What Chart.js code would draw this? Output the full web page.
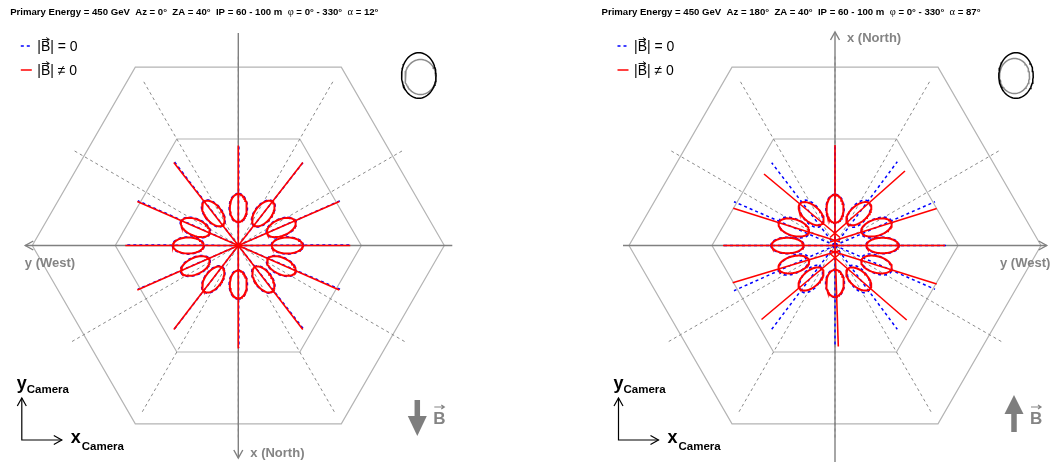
<!DOCTYPE html>
<html>
<head>
<meta charset="utf-8">
<script src="https://cdn.jsdelivr.net/npm/chart.js@4.4.1/dist/chart.umd.min.js"></script>
<style>
body { margin: 0; background: #fff; width: 1052px; height: 462px; overflow: hidden; position: relative; }
canvas { position: absolute; top: 0; }
#left { left: 0; }
#right { left: 596px; }
</style>
</head>
<body>
<canvas id="left" width="456" height="462"></canvas>
<canvas id="right" width="456" height="462"></canvas>
<script>
// camera plane in degrees: x to the right, y up, (0,0) = camera centre
var energyGeV = 450, zenith = 40, ipRange = '60 - 100 m', phiRange = '0\u00b0 - 330\u00b0';
var azimuth = [0, 180];
var alpha = [12, 87];

var hexRadii = [2.06, 1.23];
var spokeAngles = [0, 30, 60, 90, 120, 150];
var spokeLen = 1.92;

// Az = 0 : image centroids, semi axes and major-axis tilt, one per phi
var cxA = [0.49, 0.43, 0.25, 0.0, -0.25, -0.43, -0.50, -0.43, -0.25, 0.0, 0.25, 0.43];
var cyA = [0.0, 0.18, 0.32, 0.375, 0.32, 0.18, 0.0, -0.205, -0.34, -0.39, -0.34, -0.205];
var lenA = [0.155, 0.153, 0.15, 0.14, 0.15, 0.153, 0.153, 0.153, 0.15, 0.14, 0.15, 0.153];
var widA = [0.08, 0.082, 0.082, 0.085, 0.082, 0.082, 0.08, 0.082, 0.082, 0.085, 0.082, 0.082];
var tiltA = [0, 23, 52, 90, 128, 157, 180, 205, 234, 270, 306, 335];
var redOutXA = [1.12, 1.01, 0.645, 0.0, -0.645, -1.01, -1.13, -1.01, -0.645, 0.0, 0.645, 1.01];
var redOutYA = [0.0, 0.44, 0.83, 1.0, 0.83, 0.44, 0.0, -0.445, -0.84, -1.03, -0.84, -0.445];
var blueOutXA = [1.13, 1.017, 0.652, 0.006, -0.638, -1.004, -1.125, -1.004, -0.638, 0.006, 0.652, 1.017];
var blueOutYA = [0.006, 0.447, 0.836, 1.01, 0.836, 0.447, 0.006, -0.438, -0.834, -1.025, -0.834, -0.438];

// Az = 180
var cxB = [0.475, 0.415, 0.238, 0.0, -0.238, -0.412, -0.475, -0.412, -0.24, 0.0, 0.237, 0.415];
var cyB = [0.0, 0.18, 0.318, 0.367, 0.318, 0.18, 0.0, -0.19, -0.335, -0.378, -0.335, -0.19];
var lenB = [0.16, 0.157, 0.15, 0.14, 0.15, 0.157, 0.16, 0.157, 0.15, 0.135, 0.15, 0.157];
var widB = [0.077, 0.082, 0.082, 0.085, 0.082, 0.082, 0.077, 0.082, 0.082, 0.088, 0.082, 0.082];
var tiltRedB = [0, 17, 41, 90, 139, 163, 180, 195, 221, 268, 319, 345];
var tiltBlueB = [0, 23.5, 53, 90, 127, 156.5, 180, 205, 234.5, 270, 305.5, 335.5];
var redOutXB = [1.10, 1.017, 0.70, 0.0, -0.71, -1.017, -1.12, -1.023, -0.735, 0.033, 0.717, 1.017];
var redOutYB = [0.0, 0.37, 0.745, 1.005, 0.715, 0.372, 0.0, -0.372, -0.74, -1.01, -0.745, -0.385];
var redInXB = [-0.05, -0.05, -0.05, 0.0, 0.05, 0.05, 0.05, 0.05, 0.05, 0.0, -0.05, -0.05];
var redInYB = [0.0, 0.035, 0.08, 0.0, 0.08, 0.035, 0.0, -0.05, -0.08, 0.0, -0.08, -0.05];
var blueOutXB = [1.13, 1.0, 0.623, 0.0, -0.633, -1.01, -1.13, -1.01, -0.633, 0.0, 0.623, 1.0];
var blueOutYB = [0.0, 0.438, 0.838, 1.0, 0.828, 0.438, 0.0, -0.452, -0.838, -1.02, -0.838, -0.438];

// source shape sketch in the corner: [cx, cy, semi-x, semi-y]
var shapeBlackA = [1.805, 1.70, 0.172, 0.228];
var shapeGrayA = [1.822, 1.685, 0.155, 0.175];
var shapeBlackB = [1.81, 1.70, 0.172, 0.228];
var shapeGrayB = [1.795, 1.695, 0.15, 0.175];

function rad(d) { return d * Math.PI / 180; }

function ellipsePts(cx, cy, a, b, tilt) {
    var t = rad(tilt), pts = [];
    for (var k = 0; k <= 72; k++) {
        var u = k / 72 * 2 * Math.PI;
        var ex = a * Math.cos(u), ey = b * Math.sin(u);
        pts.push({ x: cx + ex * Math.cos(t) - ey * Math.sin(t), y: cy + ex * Math.sin(t) + ey * Math.cos(t) });
    }
    return pts;
}

function hexPts(r) {
    var pts = [];
    for (var k = 0; k <= 6; k++) {
        pts.push({ x: r * Math.cos(rad(k * 60)), y: r * Math.sin(rad(k * 60)) });
    }
    return pts;
}

function seg(x1, y1, x2, y2) {
    return [{ x: x1, y: y1 }, { x: x2, y: y2 }];
}

function ds(data, color, width, dash) {
    return {
        data: data,
        showLine: true,
        borderColor: color,
        borderWidth: width,
        borderDash: dash || [],
        pointRadius: 0,
        fill: false,
        tension: 0
    };
}

function chevron(ctx, x, y, dx, dy) {
    // open arrow head at (x,y) pointing along (dx,dy)
    var px = -dy, py = dx;
    ctx.beginPath();
    ctx.moveTo(x - dx * 8 + px * 4.5, y - dy * 8 + py * 4.5);
    ctx.lineTo(x, y);
    ctx.lineTo(x - dx * 8 - px * 4.5, y - dy * 8 - py * 4.5);
    ctx.stroke();
}

function vecB(ctx, x, yTop, w) {
    ctx.beginPath();
    ctx.moveTo(x, yTop);
    ctx.lineTo(x + w, yTop);
    ctx.moveTo(x + w - 3, yTop - 2);
    ctx.lineTo(x + w, yTop);
    ctx.lineTo(x + w - 3, yTop + 2);
    ctx.stroke();
}

function overlay(P) {
    return {
        id: 'overlay',
        afterDraw: function(chart) {
            var ctx = chart.ctx;
            var sx = chart.scales.x, sy = chart.scales.y;
            var cx = sx.getPixelForValue(0), cy = sy.getPixelForValue(0);
            var grey = '#848484';
            ctx.save();
            ctx.textBaseline = 'alphabetic';
            ctx.textAlign = 'left';

            // axis arrow heads
            ctx.strokeStyle = '#808080';
            ctx.lineWidth = 1.4;
            if (P.az === 0) {
                chevron(ctx, sx.getPixelForValue(P.axisX[0]), cy, -1, 0);
                chevron(ctx, cx, sy.getPixelForValue(P.axisY[0]), 0, 1);
            } else {
                chevron(ctx, sx.getPixelForValue(P.axisX[1]), cy, 1, 0);
                chevron(ctx, cx, sy.getPixelForValue(P.axisY[1]), 0, -1);
            }

            // title
            var bold = 'bold 9.6px "Liberation Sans", Arial, sans-serif';
            var sym = '10.5px "Liberation Serif", serif';
            var parts = [
                [bold, 'Primary Energy = ' + energyGeV + ' GeV  Az = ' + P.az + '\u00b0  ZA = ' + zenith + '\u00b0  IP = ' + ipRange + '  '],
                [sym, '\u03c6'],
                [bold, ' = ' + phiRange + '  '],
                [sym, '\u03b1'],
                [bold, ' = ' + P.alpha + '\u00b0']
            ];
            var total = 0;
            parts.forEach(function(p) { ctx.font = p[0]; total += ctx.measureText(p[1]).width; });
            var tx = cx - 44 - total / 2;
            ctx.fillStyle = '#000';
            parts.forEach(function(p) {
                ctx.font = p[0];
                ctx.fillText(p[1], tx, 15);
                tx += ctx.measureText(p[1]).width;
            });

            // legend
            var lx = cx - 217.5;
            ctx.lineWidth = 1.5;
            ctx.strokeStyle = '#0000ff';
            ctx.setLineDash([3, 3]);
            ctx.beginPath(); ctx.moveTo(lx, 46); ctx.lineTo(lx + 11, 46); ctx.stroke();
            ctx.setLineDash([]);
            ctx.strokeStyle = '#ff0000';
            ctx.beginPath(); ctx.moveTo(lx, 70); ctx.lineTo(lx + 11, 70); ctx.stroke();
            ctx.font = '14px "Liberation Sans", Arial, sans-serif';
            ctx.fillStyle = '#000';
            var bar = ctx.measureText('|').width, bw = ctx.measureText('B').width;
            [['|B| = 0', 51], ['|B| \u2260 0', 75]].forEach(function(l) {
                ctx.fillText(l[0], lx + 16.5, l[1]);
                ctx.strokeStyle = '#000';
                ctx.lineWidth = 0.9;
                vecB(ctx, lx + 16.5 + bar + 1, l[1] - 11.5, bw - 2);
            });

            // axis names
            ctx.fillStyle = grey;
            ctx.font = 'bold 13px "Liberation Sans", Arial, sans-serif';
            ctx.fillText('y (West)', P.az === 0 ? cx - 213.5 : cx + 165, 267);
            if (P.az === 0) {
                ctx.fillText('x (North)', cx + 12, 457);
            } else {
                ctx.fillText('x (North)', cx + 12, 42);
            }

            // camera frame
            var ox = cx - 216.5, oy = 440;
            ctx.strokeStyle = '#000';
            ctx.lineWidth = 1.2;
            ctx.beginPath();
            ctx.moveTo(ox, oy - 42); ctx.lineTo(ox, oy); ctx.lineTo(ox + 40, oy);
            ctx.stroke();
            chevron(ctx, ox, oy - 42, 0, -1);
            chevron(ctx, ox + 40, oy, 1, 0);
            ctx.fillStyle = '#000';
            ctx.font = 'bold 18px "Liberation Sans", Arial, sans-serif';
            ctx.fillText('y', ox - 5, 389);
            ctx.fillText('x', ox + 49, 443);
            ctx.font = 'bold 11.5px "Liberation Sans", Arial, sans-serif';
            ctx.fillText('Camera', ox + 5, 393);
            ctx.fillText('Camera', ox + 60, 450);

            // magnetic field direction
            var bx = cx + 179;
            ctx.fillStyle = '#7e7e7e';
            ctx.strokeStyle = '#7e7e7e';
            ctx.lineWidth = 5.5;
            ctx.beginPath();
            if (P.az === 0) {
                ctx.moveTo(bx, 400); ctx.lineTo(bx, 420);
                ctx.stroke();
                ctx.beginPath(); ctx.moveTo(bx - 9.5, 416); ctx.lineTo(bx + 9.5, 416); ctx.lineTo(bx, 436); ctx.closePath(); ctx.fill();
            } else {
                ctx.moveTo(bx, 432); ctx.lineTo(bx, 410);
                ctx.stroke();
                ctx.beginPath(); ctx.moveTo(bx - 9.5, 414); ctx.lineTo(bx + 9.5, 414); ctx.lineTo(bx, 395); ctx.closePath(); ctx.fill();
            }
            ctx.fillStyle = '#848484';
            ctx.strokeStyle = '#848484';
            ctx.font = 'bold 17px "Liberation Sans", Arial, sans-serif';
            ctx.fillText('B', cx + 195, 423.5);
            ctx.lineWidth = 1.2;
            vecB(ctx, cx + 196, 407, 10);
            ctx.restore();
        }
    };
}

function buildPanel(id, P) {
    var sets = []; // collected bottom to top
    hexRadii.forEach(function(r) { sets.push(ds(hexPts(r), '#b4b4b4', 1.2)); });
    spokeAngles.forEach(function(a) {
        var c = Math.cos(rad(a)) * spokeLen, s = Math.sin(rad(a)) * spokeLen;
        sets.push(ds(seg(-c, -s, c, s), '#8a8a8a', 1, [3, 3]));
    });
    sets.push(ds(seg(P.axisX[0], 0, P.axisX[1], 0), '#808080', 1.4));
    sets.push(ds(seg(0, P.axisY[0], 0, P.axisY[1]), '#808080', 1.4));
    sets.push(ds(ellipsePts(P.gray[0], P.gray[1], P.gray[2], P.gray[3], 0), '#8c8c8c', 1.5));
    sets.push(ds(ellipsePts(P.black[0], P.black[1], P.black[2], P.black[3], 0), '#000', 1.5));

    // |B| = 0
    for (var i = 0; i < P.cx.length; i++) {
        sets.push(ds(seg(0, 0, P.blueOutX[i], P.blueOutY[i]), '#0000ff', 1.5, [3, 3]));
        sets.push(ds(ellipsePts(P.bcx[i], P.bcy[i], P.len[i] + 0.006, P.wid[i] + 0.006, P.tiltBlue[i]), '#0000ff', 1.6, [3, 3]));
    }
    // |B| != 0
    for (var j = 0; j < P.cx.length; j++) {
        sets.push(ds(seg(P.redInX[j], P.redInY[j], P.redOutX[j], P.redOutY[j]), '#ff0000', 1.6));
        sets.push(ds(ellipsePts(P.cx[j], P.cy[j], P.len[j], P.wid[j], P.tiltRed[j]), '#ff0000', 2));
    }

    new Chart(document.getElementById(id), {
        type: 'scatter',
        data: { datasets: sets.reverse() },
        options: {
            responsive: false,
            animation: false,
            events: [],
            layout: { padding: 0 },
            scales: {
                x: { type: 'linear', display: false, min: P.xMin, max: P.xMin + 4.56 },
                y: { type: 'linear', display: false, min: -2.165, max: 2.455 }
            },
            plugins: { legend: { display: false }, tooltip: { enabled: false } }
        },
        plugins: [overlay(P)]
    });
}

var zeros = [0, 0, 0, 0, 0, 0, 0, 0, 0, 0, 0, 0];

buildPanel('left', {
    az: azimuth[0], alpha: alpha[0], xMin: -2.383,
    axisX: [-2.13, 2.14], axisY: [-2.125, 2.125],
    cx: cxA, cy: cyA, bcx: cxA, bcy: cyA, len: lenA, wid: widA,
    tiltRed: tiltA, tiltBlue: tiltA,
    redInX: zeros, redInY: zeros, redOutX: redOutXA, redOutY: redOutYA,
    blueOutX: blueOutXA, blueOutY: blueOutYA,
    black: shapeBlackA, gray: shapeGrayA
});

buildPanel('right', {
    az: azimuth[1], alpha: alpha[1], xMin: -2.39,
    axisX: [-2.12, 2.117], axisY: [-2.3, 2.135],
    cx: cxB, cy: cyB, bcx: cxB, bcy: cyB, len: lenB, wid: widB,
    tiltRed: tiltRedB, tiltBlue: tiltBlueB,
    redInX: redInXB, redInY: redInYB, redOutX: redOutXB, redOutY: redOutYB,
    blueOutX: blueOutXB, blueOutY: blueOutYB,
    black: shapeBlackB, gray: shapeGrayB
});
</script>
</body>
</html>
